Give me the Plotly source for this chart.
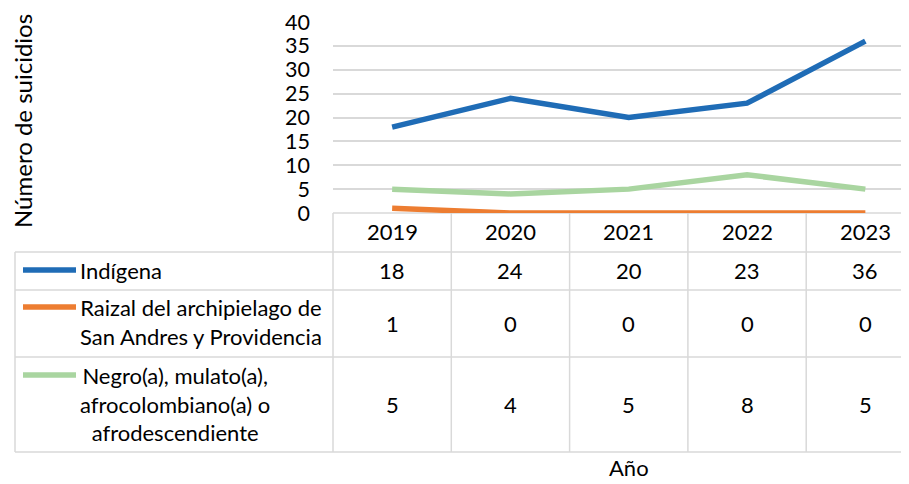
import plotly.graph_objects as go

years = ["2019", "2020", "2021", "2022", "2023"]
series_names = [
    "Indígena",
    "Raizal del archipielago de<br>San Andres y Providencia",
    "Negro(a), mulato(a),<br>afrocolombiano(a) o<br>afrodescendiente",
]
indigena = [18, 24, 20, 23, 36]
raizal = [1, 0, 0, 0, 0]
negro = [5, 4, 5, 8, 5]
y_ticks = [0, 5, 10, 15, 20, 25, 30, 35, 40]

colors = ["#1F6CB6", "#ED7D31", "#A9D5A0"]
values = [indigena, raizal, negro]

OFF = 8  # page body margin
W, H = 909 - OFF, 484 - OFF
FONT = "Lato"
GRID = "#D9D9D9"

def px(x):
    return (x - OFF) / W

def py(y):
    return 1 - (y - OFF) / H

# plot area geometry (screen pixels)
left_px = 333
right_px = 909
top_px, bottom_px = 22, 213
col_w = 118.3
x_hi = -0.5 + (right_px - left_px) / col_w

# table rows (screen pixels)
row_lines = [252, 290, 357, 452]
row_centers = [270, 323, 404]
header_y = 231
legend_y = [270, 307, 375]
label_y = [270, 322, 404]

fig = go.Figure()
xs = list(range(len(years)))
for name, vals, c in zip(series_names, values, colors):
    fig.add_trace(go.Scatter(x=xs, y=vals, mode="lines", name=name.replace("<br>", " "),
                             line=dict(color=c, width=5.5), showlegend=False, hoverinfo="skip"))

shapes = []
shapes.append(dict(type="line", xref="paper", yref="paper", x0=px(left_px), x1=1,
                   y0=py(bottom_px), y1=py(bottom_px), line=dict(color=GRID, width=1.5), layer="below"))
for ry in row_lines:
    shapes.append(dict(type="line", xref="paper", yref="paper", x0=px(15), x1=1,
                       y0=py(ry), y1=py(ry), line=dict(color=GRID, width=1.5)))
shapes.append(dict(type="line", xref="paper", yref="paper", x0=px(15), x1=px(15),
                   y0=py(row_lines[0]), y1=py(row_lines[-1]), line=dict(color=GRID, width=1.5)))
for i in range(len(years) + 1):
    xe = left_px + i * col_w
    if xe <= right_px:
        shapes.append(dict(type="line", xref="paper", yref="paper", x0=px(xe), x1=px(xe),
                           y0=py(bottom_px), y1=py(row_lines[-1]), line=dict(color=GRID, width=1.5)))
for ly, c in zip(legend_y, colors):
    shapes.append(dict(type="line", xref="paper", yref="paper", x0=px(23), x1=px(76),
                       y0=py(ly), y1=py(ly), line=dict(color=c, width=5.5)))

ann = []
fs = 22
for i, yr in enumerate(years):
    ann.append(dict(x=i, xref="x", y=py(header_y), yref="paper", text=yr, showarrow=False,
                    font=dict(size=fs, color="#000", family=FONT), xanchor="center", yanchor="middle"))
for r, vals in enumerate(values):
    for i, v in enumerate(vals):
        ann.append(dict(x=i, xref="x", y=py(row_centers[r]), yref="paper", text=str(v), showarrow=False,
                        font=dict(size=fs, color="#000", family=FONT), xanchor="center", yanchor="middle"))
for r, name in enumerate(series_names):
    ann.append(dict(x=px(78), xref="paper", y=py(label_y[r]), yref="paper", text=name, showarrow=False,
                    align="center", font=dict(size=fs, color="#000", family=FONT),
                    xanchor="left", yanchor="middle"))
ann.append(dict(x=2, xref="x", y=py(467), yref="paper", text="Año", showarrow=False,
                font=dict(size=22, color="#000", family=FONT), xanchor="center", yanchor="middle"))
ann.append(dict(x=px(22), xref="paper", y=py(121), yref="paper", text="Número de suicidios",
                showarrow=False, textangle=-90, font=dict(size=24, color="#000", family=FONT),
                xanchor="center", yanchor="middle"))

fig.update_layout(
    width=W, height=H,
    margin=dict(l=0, r=0, t=0, b=0, autoexpand=False),
    paper_bgcolor="white", plot_bgcolor="white",
    shapes=shapes, annotations=ann,
    xaxis=dict(domain=[px(left_px), 1], range=[-0.5, x_hi], showticklabels=False,
               showgrid=False, zeroline=False, showline=False, fixedrange=True, automargin=False),
    yaxis=dict(domain=[py(bottom_px), py(top_px)], range=[0, 40], tickvals=y_ticks,
               showgrid=True, gridcolor=GRID, gridwidth=1.5, zeroline=False, showline=False,
               ticks="", ticklabelstandoff=22, automargin=False,
               tickfont=dict(size=21.5, color="#000", family=FONT)),
)
fig.write_html("out.html")
